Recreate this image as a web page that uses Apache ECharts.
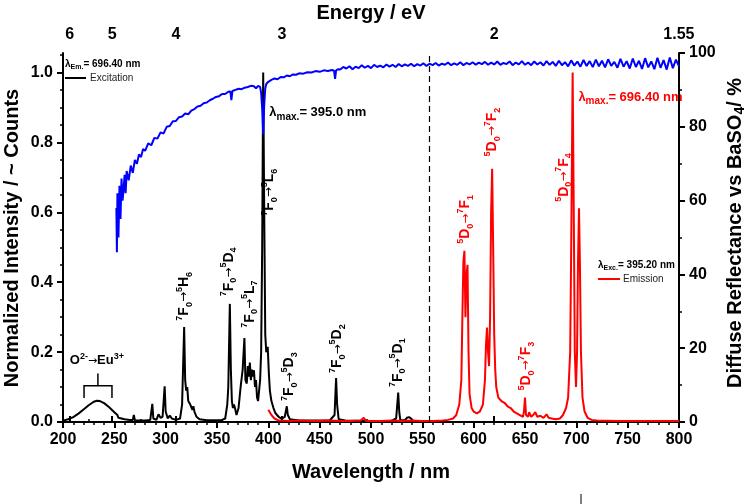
<!DOCTYPE html>
<html><head><meta charset="utf-8">
<script src="https://cdn.jsdelivr.net/npm/echarts@6/dist/echarts.min.js"></script>
<style>html,body{margin:0;padding:0;background:#fff}#c{width:749px;height:504px}</style>
</head><body><div id="c"></div>
<script>
// ---------------- DATA ----------------
// Excitation spectrum (lambda_em = 696.40 nm): [wavelength nm, normalized intensity]
const excitation = [
[200,0.004],[205,0.008],[210,0.014],[215,0.024],[220,0.036],[225,0.048],[230,0.058],[233,0.061],[236,0.060],[240,0.054],
[245,0.042],[250,0.028],[253,0.020],[254,0.012],[255,0.016],[256,0.011],[260,0.008],[265,0.006],[268,0.006],[269,0.020],
[270,0.005],[275,0.004],[280,0.004],[285,0.006],[287,0.052],[288,0.010],[291,0.006],[293,0.022],[295,0.012],[297,0.015],
[299,0.102],[300,0.030],[302,0.010],[304,0.018],[306,0.010],[310,0.006],[314,0.010],[316,0.050],[318,0.272],[319,0.120],
[320,0.090],[321,0.100],[322,0.060],[324,0.050],[326,0.035],[327,0.045],[328,0.030],[330,0.015],[333,0.008],[340,0.005],
[350,0.005],[355,0.006],[358,0.010],[360,0.050],[361,0.100],[362.5,0.338],[363.5,0.150],[364.5,0.060],[365.5,0.040],[366.5,0.050],
[367.5,0.040],[369,0.020],[371,0.040],[373,0.100],[375,0.150],[376.7,0.240],[377.7,0.120],[379,0.110],[380,0.160],[381,0.130],
[382,0.170],[383,0.120],[384,0.150],[385,0.130],[386,0.148],[387,0.100],[388,0.120],[389,0.070],[390,0.060],[391,0.090],
[392,0.120],[393,0.200],[394,0.500],[395,1.000],[396,0.600],[397,0.250],[398,0.200],[399.4,0.215],[400.5,0.140],[401.5,0.090],
[403,0.060],[405,0.040],[407,0.025],[410,0.015],[413,0.010],[416,0.015],[418,0.045],[419,0.020],[421,0.008],[430,0.004],
[450,0.004],[460,0.005],[464.5,0.020],[466,0.126],[467,0.050],[468.5,0.008],[475,0.004],[500,0.003],[520,0.003],[524.5,0.010],
[526.5,0.084],[527.5,0.030],[528.5,0.006],[533,0.005],[535,0.012],[537,0.014],[539,0.010],[541,0.003],[545,0.002]
];
// Emission spectrum (lambda_exc = 395.20 nm)
const emission = [
[400,0.035],[403,0.020],[406,0.010],[410,0.004],[420,0.003],[430,0.004],[440,0.003],[450,0.003],[460,0.004],[470,0.003],
[480,0.003],[490,0.004],[493,0.012],[495,0.003],[510,0.003],[520,0.004],[530,0.003],[540,0.004],[550,0.003],[560,0.003],
[570,0.004],[575,0.006],[580,0.010],[583,0.020],[586,0.050],[588,0.120],[589,0.300],[590,0.460],[591,0.490],[592,0.300],
[593,0.420],[594,0.450],[595,0.200],[596,0.080],[598,0.040],[600,0.030],[603,0.025],[606,0.030],[609,0.050],[611,0.120],
[612,0.220],[613,0.270],[614,0.200],[615,0.160],[616,0.300],[617,0.600],[618,0.725],[619,0.500],[620,0.250],[621,0.150],
[622,0.100],[624,0.070],[627,0.060],[630,0.055],[633,0.045],[636,0.040],[639,0.030],[642,0.025],[645,0.020],[648,0.015],
[649,0.030],[650,0.070],[651,0.020],[653,0.015],[654,0.028],[656,0.015],[658,0.020],[660,0.028],[662,0.015],[665,0.018],
[668,0.012],[671,0.022],[673,0.012],[676,0.010],[680,0.008],[684,0.010],[687,0.020],[690,0.040],[692,0.070],[694,0.200],
[695,0.500],[696.4,1.000],[697.5,0.600],[698.5,0.200],[699.7,0.100],[700.7,0.200],[701.6,0.450],[702.6,0.612],[703.5,0.450],[704.5,0.200],
[706,0.070],[708,0.030],[711,0.012],[715,0.006],[720,0.004],[740,0.003],[760,0.003],[780,0.003],[800,0.003]
];
// Diffuse reflectance vs BaSO4 (%)
const reflectance = [
[252,58],[252.5,46],[253,62],[254,50],[255,64],[256,55],[257,66],[258,60],[259,63],[260,67],[261,62],
[262,68],[264,65.5],[266,69.5],[268,67.5],[270,71],[272,70],[274,72.5],[276,71.8],[278,74],[280,73.5],[283,75.5],[286,75],
[289,77],[292,76.8],[295,78.5],[298,78.2],[301,80],[304,80.2],[307,81.5],[310,81.6],[313,82.6],[316,82.8],[319,83.6],[322,83.4],
[325,84.4],[328,84.8],[331,85.5],[334,85.7],[337,86.4],[340,86.6],[343,87.2],[346,87.6],[349,88.1],[352,88.3],[355,88.9],[358,88.9],
[361,89.5],[363,89.6],[364,87.2],[365,89.7],[368,90],[371,90.3],[374,90.2],[377,90.6],[380,90.8],[383,91.1],[386,91],
[388,90.4],[390,91.1],[392,90.8],[393,89.2],[394,85],[395,78],[396,86],[397,90.4],[398,91.6],[400,92.2],[403,92.7],[406,93.1],
[409,92.9],[412,93.5],[415,93.4],[418,93.9],[421,93.7],[424,94.2],[427,94.1],[430,94.5],[434,94.4],[438,94.8],[442,94.7],
[446,95.1],[450,94.9],[454,95.3],[458,95.1],[462,95.4],[464,95.2],[465,93],[466,95.3],[468,95.6],
[470,95.5],[473,96.2],[476,95.8],[479,96.4],[482,95.6],[485,96.3],[488,95.9],[491,96.7],[494,96.0],[497,96.5],[500,95.9],
[503,96.8],[506,96.2],[509,96.6],[512,96.1],[515,96.9],[518,96.3],[521,96.8],[524,96.2],[527,97.0],[530,96.4],[533,96.9],
[536,96.5],[539,97.1],[542,96.4],[545,97.0],[548,96.6],[551,97.2],[554,96.5],[557,97.1],[560,96.7],[563,97.3],[566,96.6],
[569,97.1],[572,96.8],[575,97.4],[578,96.7],[581,97.2],[584,96.8],[587,97.5],[590,96.7],[593,97.3],[596,96.9],[599,97.5],
[602,96.8],[605,97.4],[608,97.0],[611,97.6],[614,96.8],[617,97.4],[620,96.9],[623,97.7],[626,96.8],[629,97.3],[632,97.0],
[635,97.7],[638,96.7],[641,97.4],[644,96.9],[647,97.8],[650,96.8],[653,97.4],[656,96.7],[659,97.7],[662,96.9],[665,97.5],
[668,96.6],[671,97.8],[674,96.8],[677,97.6],[680,96.5],[683,97.9],[686,96.7],[689,97.5],[692,96.4],[695,98.0],[698,96.6],
[701,97.7],[704,96.3],[707,98.1],[710,96.5],[713,97.8],[716,96.2],[719,98.2],[722,96.4],[725,97.9],[728,96.1],[731,98.3],
[734,96.5],[737,97.6],[740,96.0],[743,98.4],[746,96.3],[749,97.8],[752,95.8],[755,98.5],[758,96.2],[761,97.9],[764,95.7],
[767,98.6],[770,96.1],[773,97.7],[776,95.6],[779,98.7],[782,96.0],[785,98.1],[788,95.5],[791,98.8],[794,95.9],[797,98.2],[800,96.4]
];
// Top axis: photon energy ticks (eV)
const energyTicks = [6, 5, 4, 3, 2, 1.55];
const energyMinorTicks = [5.5, 4.5, 3.5, 2.5];
const dividerWavelength = 557;
const HC = 1239.84; // eV*nm

// --------------- CHART ----------------
const FONT = '"Liberation Sans", Arial, sans-serif';
const BLK = '#000';
const chart = echarts.init(document.getElementById('c'));
const GRID = {left:63, right:70, top:53, bottom:82};
const leftMajor = [0,0.2,0.4,0.6,0.8,1.0];
const leftMinor = [];
for (let i = 1; i <= 21; i++) { if (i % 4) leftMinor.push(+(i*0.05).toFixed(2)); }
const YMAX = 1.056;

const tickLab = {color:BLK, fontSize:16, fontWeight:'bold', fontFamily:FONT};
chart.setOption({
  animation:false,
  grid:[Object.assign({}, GRID), Object.assign({}, GRID)],
  xAxis:[
    {gridIndex:0, type:'value', position:'bottom', min:200, max:800, interval:50,
     axisLine:{lineStyle:{color:BLK,width:2}}, splitLine:{show:false},
     axisTick:{length:6, lineStyle:{color:BLK,width:2}},
     minorTick:{show:true, splitNumber:5, length:3, lineStyle:{color:BLK,width:1.5}},
     axisLabel:Object.assign({margin:10}, tickLab)},
    {gridIndex:0, type:'value', position:'top', min:200, max:800,
     axisLine:{lineStyle:{color:BLK,width:2}}, splitLine:{show:false},
     axisTick:{length:6, lineStyle:{color:BLK,width:2}, customValues:energyTicks.map(e=>HC/e)},
     axisLabel:Object.assign({margin:10, customValues:energyTicks.map(e=>HC/e),
       formatter:v=>String(+(HC/v).toFixed(2))}, tickLab)},
    {gridIndex:1, type:'value', position:'top', min:200, max:800,
     axisLine:{show:false}, splitLine:{show:false}, axisLabel:{show:false},
     axisTick:{length:3, lineStyle:{color:BLK,width:1.5}, customValues:energyMinorTicks.map(e=>HC/e)}}
  ],
  yAxis:[
    {gridIndex:0, type:'value', position:'left', min:0, max:YMAX,
     axisLine:{show:true, lineStyle:{color:BLK,width:2}}, splitLine:{show:false},
     axisTick:{show:true, length:6, lineStyle:{color:BLK,width:2}, customValues:leftMajor},
     axisLabel:Object.assign({margin:10, customValues:leftMajor, formatter:v=>v.toFixed(1)}, tickLab)},
    {gridIndex:0, type:'value', position:'right', min:0, max:100, interval:20,
     axisLine:{show:true, lineStyle:{color:BLK,width:2}}, splitLine:{show:false},
     axisTick:{show:true, length:6, lineStyle:{color:BLK,width:2}},
     minorTick:{show:true, splitNumber:2, length:3, lineStyle:{color:BLK,width:1.5}},
     axisLabel:Object.assign({margin:10}, tickLab)},
    {gridIndex:1, type:'value', position:'left', min:0, max:YMAX,
     axisLine:{show:false}, splitLine:{show:false}, axisLabel:{show:false},
     axisTick:{show:true, length:3, lineStyle:{color:BLK,width:1.5}, customValues:leftMinor}}
  ],
  series:[
    {type:'line', name:'Excitation', xAxisIndex:0, yAxisIndex:0, data:excitation, showSymbol:false,
     lineStyle:{color:BLK, width:2}, z:3,
     markLine:{silent:true, symbol:['none','none'], label:{show:false},
       lineStyle:{color:BLK, type:[6,4], width:1.2}, data:[{xAxis:dividerWavelength}]}},
    {type:'line', name:'Emission', xAxisIndex:0, yAxisIndex:0, data:emission, showSymbol:false,
     lineStyle:{color:'#ff0000', width:2}, z:3},
    {type:'line', name:'Reflectance', xAxisIndex:0, yAxisIndex:1, data:reflectance, showSymbol:false,
     lineStyle:{color:'#0000ff', width:2}, z:4}
  ]
});

// --------------- ANNOTATIONS ----------------
const richBase = (size, color) => ({
  sup:{fontSize:Math.round(size*0.66), fontWeight:'bold', fontFamily:FONT, fill:color, verticalAlign:'top'},
  sub:{fontSize:Math.round(size*0.66), fontWeight:'bold', fontFamily:FONT, fill:color, verticalAlign:'bottom'},
  subn:{fontSize:Math.round(size*0.8), fontWeight:'bold', fontFamily:FONT, fill:color, verticalAlign:'bottom'},
  ar:{fontSize:Math.round(size*0.85), fontFamily:'"DejaVu Sans", sans-serif', fill:color, verticalAlign:'middle'}
});
const trans = (a,b,c,d) => `{sup|${a}}${b}{sub|0}{ar|→}{sup|${c}}${d}`;
// [text, nm, intensity (start of vertical label), color]
const vLabels = [
  [trans('7','F','5','H{sub|6}'), 318, 0.29, BLK],
  [trans('7','F','5','D{sub|4}'), 361.5, 0.36, BLK],
  [trans('7','F','5','L{sub|7}'), 382, 0.27, BLK],
  [trans('7','F','5','L{sub|6}'), 401, 0.59, BLK],
  [trans('7','F','5','D{sub|3}'), 420.5, 0.06, BLK],
  [trans('7','F','5','D{sub|2}'), 467.5, 0.14, BLK],
  [trans('7','F','5','D{sub|1}'), 526, 0.10, BLK],
  [trans('5','D','7','F{sub|1}'), 592, 0.51, '#ff0000'],
  [trans('5','D','7','F{sub|2}'), 618, 0.76, '#ff0000'],
  [trans('5','D','7','F{sub|3}'), 651, 0.09, '#ff0000'],
  [trans('5','D','7','F{sub|4}'), 688, 0.63, '#ff0000']
];
function px(x, y) { return chart.convertToPixel({xAxisIndex:0, yAxisIndex:0}, [x, y]); }
const g = [];
vLabels.forEach(([t, x, y, col]) => {
  const p = px(x, y);
  g.push({type:'text', x:p[0], y:p[1], rotation:Math.PI/2, silent:true,
    style:{text:t, fill:col, fontSize:14, fontWeight:'bold', fontFamily:FONT, lineHeight:19,
      align:'left', verticalAlign:'middle', rich:richBase(14, col)}});
});
// horizontal labels: [text, nm, intensity, color, size, align]
const hLabels = [
  ['O{sup|2-}{ar|→}Eu{sup|3+}', 233, 0.175, BLK, 13, 'center'],
  ['λ{subn|max.}= 395.0 nm', 401, 0.885, BLK, 13, 'left'],
  ['λ{subn|max.}= 696.40 nm', 702, 0.93, '#ff0000', 13, 'left']
];
hLabels.forEach(([t, x, y, col, s, al]) => {
  const p = px(x, y);
  g.push({type:'text', x:p[0], y:p[1], silent:true,
    style:{text:t, fill:col, fontSize:s, fontWeight:'bold', fontFamily:FONT, lineHeight:18,
      align:al, verticalAlign:'middle', rich:richBase(s, col)}});
});
// bracket over the charge transfer band
const b1 = px(220.5, 0.069), b2 = px(220.5, 0.104), b3 = px(247.7, 0.104), b4 = px(247.7, 0.069);
const bc = px(234, 0.104), bt = px(234, 0.139);
g.push({type:'polyline', silent:true, shape:{points:[b1,b2,b3,b4]}, style:{stroke:BLK, lineWidth:1.5, fill:null}});
g.push({type:'line', silent:true, shape:{x1:bc[0], y1:bc[1], x2:bt[0], y2:bt[1]}, style:{stroke:BLK, lineWidth:1.5}});

// legends (layout in pixels)
const legRich = {sub:{fontSize:7, fontWeight:'bold', fontFamily:FONT, fill:BLK, verticalAlign:'bottom'}};
g.push({type:'text', x:65, y:64, silent:true, style:{text:'λ{sub|Em.}= 696.40 nm', fill:BLK, fontSize:10, fontWeight:'bold', fontFamily:FONT, lineHeight:13, verticalAlign:'middle', rich:legRich}});
g.push({type:'line', silent:true, shape:{x1:65, y1:78, x2:86, y2:78}, style:{stroke:BLK, lineWidth:2}});
g.push({type:'text', x:90, y:78, silent:true, style:{text:'Excitation', fill:'#222', fontSize:10, fontFamily:FONT, verticalAlign:'middle'}});
g.push({type:'text', x:598, y:265, silent:true, style:{text:'λ{sub|Exc.}= 395.20 nm', fill:BLK, fontSize:10, fontWeight:'bold', fontFamily:FONT, lineHeight:13, verticalAlign:'middle', rich:legRich}});
g.push({type:'line', silent:true, shape:{x1:598, y1:279, x2:620, y2:279}, style:{stroke:'#ff0000', lineWidth:2}});
g.push({type:'text', x:623, y:279, silent:true, style:{text:'Emission', fill:'#222', fontSize:10, fontFamily:FONT, verticalAlign:'middle'}});

// axis titles
const titleStyle = {fill:BLK, fontSize:20, fontWeight:'bold', fontFamily:FONT, align:'center', verticalAlign:'middle'};
g.push({type:'text', x:371, y:13, silent:true, style:Object.assign({text:'Energy / eV'}, titleStyle)});
g.push({type:'text', x:371, y:472, silent:true, style:Object.assign({text:'Wavelength / nm'}, titleStyle)});
g.push({type:'text', x:12, y:238, rotation:Math.PI/2, silent:true, style:Object.assign({text:'Normalized Intensity / ~ Counts'}, titleStyle)});
g.push({type:'text', x:735, y:233, rotation:Math.PI/2, silent:true,
  style:Object.assign({text:'Diffuse Reflectance vs BaSO{s|4}/ %', rich:{s:{fontSize:14, fontWeight:'bold', fontFamily:FONT, fill:BLK, verticalAlign:'bottom'}}, lineHeight:24}, titleStyle)});
// small stray tick at bottom of original figure
g.push({type:'line', silent:true, shape:{x1:581, y1:494, x2:581, y2:504}, style:{stroke:BLK, lineWidth:1}});

chart.setOption({graphic:{elements:g}});
</script>
</body></html>
